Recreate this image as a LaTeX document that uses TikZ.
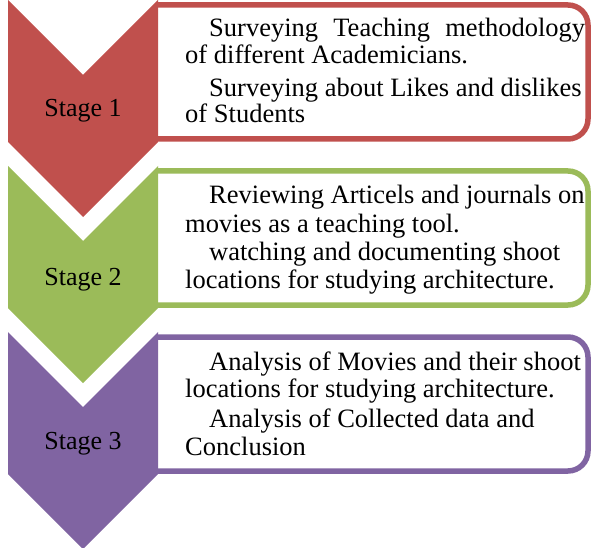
\documentclass[tikz,border=0pt]{standalone}
\usepackage{fontspec}
\setmainfont{Liberation Serif}
\definecolor{cred}{HTML}{C0504D}
\definecolor{cgreen}{HTML}{9BBB59}
\definecolor{cpurple}{HTML}{8064A2}
\begin{document}
\begin{tikzpicture}[x=1pt,y=-1pt,
  txt/.style={anchor=base west,inner sep=0pt,font=\fontsize{26.5}{30}\selectfont},
  lbl/.style={anchor=base,inner sep=0pt,font=\fontsize{26}{30}\selectfont},
  boxframe/.style={draw=#1,line width=5.5pt,rounded corners=20pt},
  chev/.style={fill=#1,draw=none}]
\useasboundingbox (0,0) rectangle (591,548);
% boxes
\foreach \t/\c in {5/cred,171/cgreen,337/cpurple}{
  \fill[white] (158,\t) rectangle (588,\t+134);
  \draw[boxframe=\c] (158,\t) -- (588,\t) -- (588,\t+134) -- (158,\t+134);
}
% chevrons
\foreach \t/\c in {0/cred,166/cgreen,332/cpurple}{
  \fill[chev=\c] (8,\t) -- (83,\t+75) -- (158,\t) -- (158,\t+142) -- (83,\t+217) -- (8,\t+142) -- cycle;
}
\node[lbl] (s1) at (83,117) {Stage 1};
\node[lbl] (s2) at (83,285) {Stage 2};
\node[lbl] (s3) at (83,449) {Stage 3};
% box 1
\node[txt] (a1) at (209,37) {\makebox[376pt][s]{Surveying Teaching methodology}};
\node[txt] (a2) at (185,64) {of different Academicians.};
\node[txt] (a3) at (209,97) {Surveying about Likes and dislikes};
\node[txt] (a4) at (185,123) {of Students};
% box 2
\node[txt] (b1) at (209,203) {Reviewing Articels and journals on};
\node[txt] (b2) at (185,232) {movies as a teaching tool.};
\node[txt] (b3) at (209,260) {watching and documenting shoot};
\node[txt] (b4) at (185,288) {locations for studying architecture.};
% box 3
\node[txt] (c1) at (209,370) {Analysis of Movies and their shoot};
\node[txt] (c2) at (185,397) {locations for studying architecture.};
\node[txt] (c3) at (209,427) {Analysis of Collected data and};
\node[txt] (c4) at (185,455) {Conclusion};
\end{tikzpicture}
\end{document}
